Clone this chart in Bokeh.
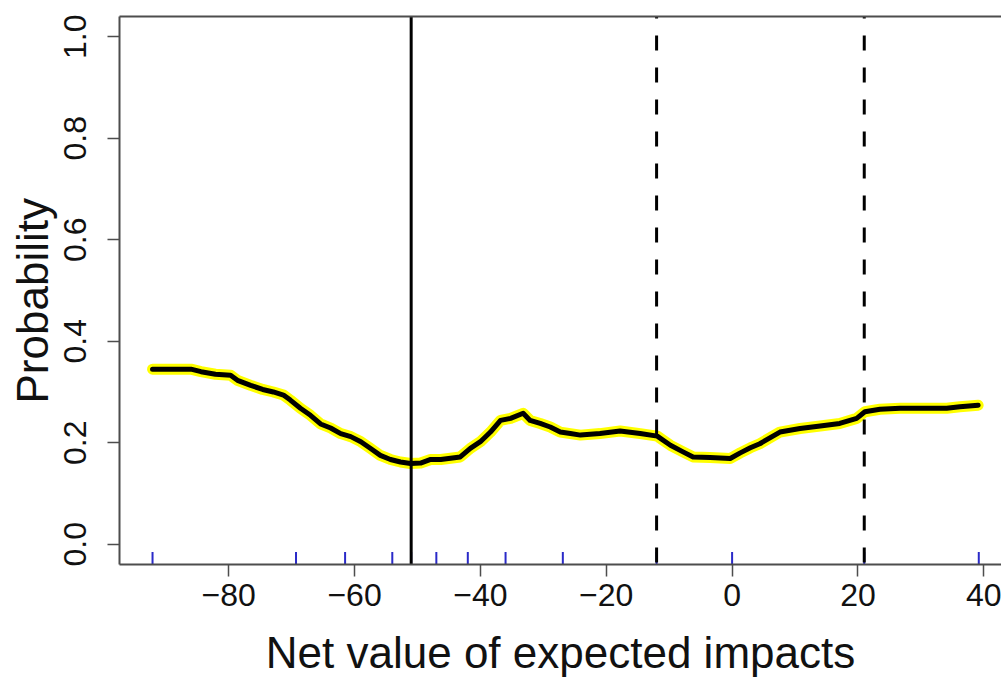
from bokeh.plotting import figure
from bokeh.models import (Range1d, FixedTicker, LinearAxis, Title,
                          CustomJSTickFormatter, NumeralTickFormatter)
from bokeh.embed import file_html
from bokeh.resources import INLINE

# ---------------- data ----------------
net_value = [-92.1, -86.0, -84.4, -82.1, -79.7, -78.6, -76.5, -74.6, -72.9, -71.3,
             -70.2, -68.6, -67.0, -65.4, -63.8, -62.2, -60.6, -59.0, -57.5, -55.9,
             -54.3, -52.7, -51.1, -49.5, -47.9, -46.3, -43.2, -41.6, -40.0, -38.4,
             -36.8, -35.2, -33.2, -32.1, -30.5, -28.9, -27.3, -25.7, -24.1, -21.0,
             -17.8, -14.6, -11.9, -9.8, -7.8, -6.2, -3.5, -0.3, 1.3, 2.9,
             4.4, 7.6, 10.8, 14.0, 17.1, 19.8, 21.1, 23.5, 26.7, 34.1,
             36.2, 39.1]
probability = [0.345, 0.345, 0.340, 0.335, 0.333, 0.323, 0.313, 0.305, 0.300, 0.294,
               0.284, 0.268, 0.254, 0.237, 0.229, 0.218, 0.212, 0.202, 0.189, 0.175,
               0.167, 0.162, 0.159, 0.160, 0.167, 0.167, 0.172, 0.189, 0.202, 0.221,
               0.244, 0.248, 0.258, 0.244, 0.238, 0.231, 0.221, 0.218, 0.215, 0.218,
               0.223, 0.218, 0.213, 0.195, 0.182, 0.172, 0.171, 0.169, 0.180, 0.190,
               0.198, 0.221, 0.228, 0.233, 0.238, 0.248, 0.261, 0.266, 0.268, 0.268,
               0.271, 0.274]
rug_values = [-92.1, -69.3, -61.5, -54.0, -51.0, -47.0, -42.0, -36.0, -26.9,
              -12.0, 0.0, 21.0, 39.2]
solid_line_x = [-51.0]
dashed_line_x = [-12.0, 21.0]
x_ticks = [-80, -60, -40, -20, 0, 20, 40]
y_ticks = [0.0, 0.2, 0.4, 0.6, 0.8, 1.0]
x_label = "Net value of expected impacts"
y_label = "Probability"

FONT = "Liberation Sans"
AX_COL = "#4d4d4d"

x0, x1 = -97.35, 42.81
y0, y1 = -0.04, 1.04

p = figure(width=1001, height=679, x_range=Range1d(x0, x1), y_range=Range1d(y0, y1),
           output_backend="svg", toolbar_location=None,
           min_border_left=118, min_border_right=0, min_border_top=16,
           min_border_bottom=115)
p.grid.visible = False
p.outline_line_color = None
p.background_fill_color = "white"
p.border_fill_color = "white"

# x axis
xa = p.xaxis[0]
xa.ticker = FixedTicker(ticks=x_ticks)
xa.formatter = CustomJSTickFormatter(
    code="return (tick < 0 ? '\\u2212' : '') + Math.abs(tick).toFixed(0);")
xa.major_tick_out = 12
xa.major_tick_in = 0
xa.minor_tick_out = 0
xa.minor_tick_in = 0
xa.axis_line_color = AX_COL
xa.axis_line_width = 2
xa.major_tick_line_color = AX_COL
xa.major_tick_line_width = 1.5
xa.major_label_text_font = FONT
xa.major_label_text_font_size = "32px"
xa.major_label_text_color = "#111111"
xa.major_label_standoff = 7
xa.axis_label = x_label
xa.axis_label_text_font = FONT
xa.axis_label_text_font_size = "44px"
xa.axis_label_text_font_style = "normal"
xa.axis_label_text_color = "#111111"
xa.axis_label_standoff = 19

# y axis
ya = p.yaxis[0]
ya.ticker = FixedTicker(ticks=y_ticks)
ya.formatter = NumeralTickFormatter(format="0.0")
ya.major_tick_out = 12
ya.major_tick_in = 0
ya.minor_tick_out = 0
ya.minor_tick_in = 0
ya.axis_line_color = AX_COL
ya.axis_line_width = 2
ya.major_tick_line_color = AX_COL
ya.major_tick_line_width = 1.5
ya.major_label_text_font = FONT
ya.major_label_text_font_size = "32px"
ya.major_label_text_color = "#111111"
ya.major_label_orientation = "vertical"
ya.major_label_standoff = 21

# y axis title (placed with an offset along the axis)
p.add_layout(Title(text=y_label, align="left", offset=161, standoff=10,
                   text_font=FONT, text_font_size="44px",
                   text_font_style="normal", text_color="#111111"), "left")

# top border line
top = LinearAxis(ticker=FixedTicker(ticks=[]), major_tick_out=0, major_tick_in=0,
                 minor_tick_out=0, minor_tick_in=0, major_label_standoff=0,
                 major_label_text_font_size="0px",
                 axis_line_color=AX_COL, axis_line_width=2)
p.add_layout(top, "above")

# rug
rug_top = y0 + 0.0245
p.segment(x0=rug_values, x1=rug_values, y0=[y0] * len(rug_values),
          y1=[rug_top] * len(rug_values), line_color="#2a2ac8", line_width=2)

# curve with yellow halo
p.line(net_value, probability, line_color="#ffff00", line_width=11,
       line_join="round", line_cap="round")
p.line(net_value, probability, line_color="#000000", line_width=5,
       line_join="round", line_cap="round")

# vertical lines
p.segment(x0=solid_line_x, x1=solid_line_x, y0=[y1] * len(solid_line_x),
          y1=[y0 - 0.005] * len(solid_line_x), line_color="black", line_width=3)
p.segment(x0=dashed_line_x, x1=dashed_line_x, y0=[y1] * len(dashed_line_x),
          y1=[y0] * len(dashed_line_x), line_color="black", line_width=3,
          line_dash="15 17", line_dash_offset=13)

open("out.html", "w").write(file_html(p, INLINE))
